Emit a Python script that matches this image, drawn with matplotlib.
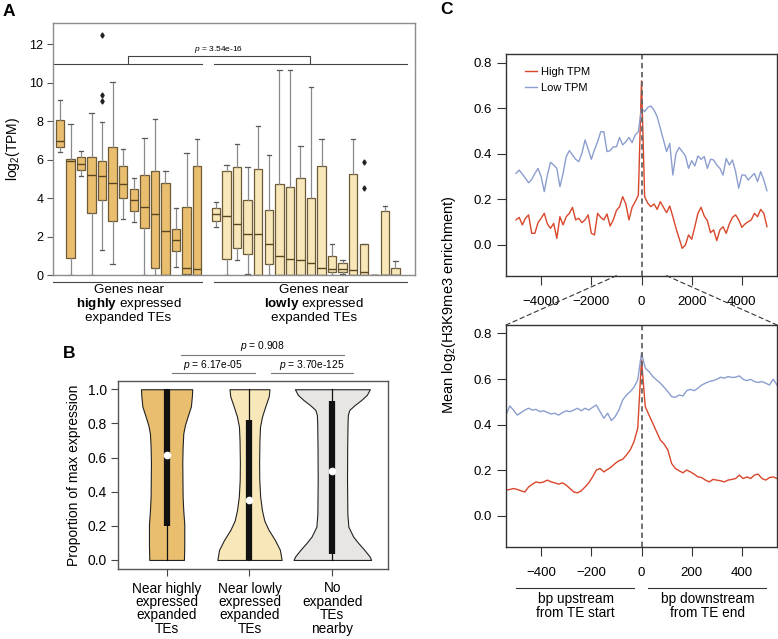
import numpy as np
import matplotlib.pyplot as plt
from matplotlib.patches import ConnectionPatch

plt.rcParams['font.family'] = ['Liberation Sans', 'DejaVu Sans']
plt.rcParams['mathtext.fontset'] = 'custom'
plt.rcParams['mathtext.rm'] = 'Liberation Sans'
plt.rcParams['mathtext.it'] = 'Liberation Sans:italic'
plt.rcParams['mathtext.bf'] = 'Liberation Sans:bold'

# Panel A: box stats (whislo, q1, med, q3, whishi)
high_stats = [
    (6.37, 6.67, 6.98, 8.04, 9.11),
    (0.00, 0.87, 5.94, 6.05, 7.83),
    (5.16, 5.47, 5.79, 6.11, 6.44),
    (0.00, 3.20, 5.21, 6.15, 8.42),
    (1.32, 3.88, 5.13, 5.94, 7.95),
    (0.57, 2.80, 4.76, 6.63, 10.05),
    (2.93, 4.00, 4.74, 5.66, 6.56),
    (2.77, 3.34, 3.92, 4.47, 5.04),
    (0.00, 2.46, 3.55, 5.21, 7.12),
    (0.00, 0.35, 3.15, 5.39, 8.09),
    (0.00, 0.00, 2.29, 4.80, 5.42),
    (0.44, 1.23, 1.84, 2.41, 3.46),
    (0.00, 0.05, 0.38, 3.52, 6.36),
    (0.00, 0.00, 0.33, 5.65, 7.05),
]
high_fliers = {4: [9.06, 9.37, 12.47]}

low_stats = [
    (2.49, 2.80, 3.15, 3.48, 3.79),
    (0.00, 0.83, 3.07, 5.40, 5.73),
    (0.78, 1.40, 2.67, 5.61, 6.83),
    (0.07, 1.11, 2.15, 3.88, 5.61),
    (0.00, 0.00, 2.15, 5.53, 7.76),
    (0.00, 0.57, 1.60, 3.40, 6.25),
    (0.00, 0.00, 1.00, 4.73, 10.67),
    (0.00, 0.00, 0.85, 4.56, 10.67),
    (0.00, 0.00, 0.78, 5.06, 6.69),
    (0.00, 0.00, 0.64, 4.02, 9.75),
    (0.00, 0.00, 0.35, 5.65, 7.05),
    (0.00, 0.17, 0.33, 0.99, 1.63),
    (0.05, 0.14, 0.33, 0.61, 0.80),
    (0.00, 0.00, 0.24, 5.27, 7.05),
    (0.00, 0.00, 0.15, 1.63, 1.63),
    (0.00, 0.00, 0.00, 0.00, 0.00),
    (0.00, 0.00, 0.00, 3.33, 3.57),
    (0.00, 0.00, 0.00, 0.38, 0.75),
]
low_fliers = {14: [4.54, 5.85]}
p_boxes = "3.54e-16"

# Panel B: violin outlines (y level, half width) + inner stats
v_labels = ["Near highly\nexpressed\nexpanded\nTEs", "Near lowly\nexpressed\nexpanded\nTEs",
            "No\nexpanded\nTEs\nnearby"]
v1_y = [0, 0.08, 0.14, 0.21, 0.29, 0.37, 0.57, 0.66, 0.74, 0.79, 0.84, 0.90, 0.96, 1.0]
v1_w = [0.209, 0.213, 0.213, 0.213, 0.201, 0.193, 0.189, 0.193, 0.201, 0.221, 0.253, 0.293, 0.305, 0.309]
v2_y = [0, 0.059, 0.117, 0.176, 0.23, 0.29, 0.37, 0.47, 0.57, 0.70, 0.78, 0.84, 0.90, 0.96, 1.0]
v2_w = [0.388, 0.367, 0.307, 0.231, 0.179, 0.151, 0.129, 0.118, 0.116, 0.120, 0.127, 0.151, 0.191, 0.233, 0.241]
v3_y = [0, 0.02, 0.059, 0.098, 0.137, 0.195, 0.27, 0.47, 0.66, 0.80, 0.85, 0.879, 0.908, 0.938, 0.967, 1.0]
v3_w = [0.468, 0.450, 0.386, 0.315, 0.251, 0.193, 0.181, 0.177, 0.179, 0.183, 0.187, 0.205, 0.271, 0.351, 0.416, 0.452]
v_q1 = [0.20, 0.00, 0.035]
v_q3 = [1.00, 0.82, 0.93]
v_med = [0.613, 0.35, 0.52]
p_b = ["6.17e-05", "3.70e-125", "0.908"]

# Panel C: mean enrichment profiles
x_wide = np.arange(-5000, 5001, 125)
high_wide = [0.110, 0.121, 0.088, 0.117, 0.132, 0.051, 0.051, 0.098, 0.117, 0.139, 0.092, 0.073, 0.095, 0.029,
             0.124, 0.088, 0.124, 0.139, 0.165, 0.110, 0.117, 0.098, 0.110, 0.132, 0.051, 0.044, 0.139, 0.121,
             0.110, 0.136, 0.083, 0.110, 0.151, 0.168, 0.212, 0.180, 0.110, 0.165, 0.190, 0.219, 0.720, 0.212,
             0.183, 0.168, 0.180, 0.156, 0.190, 0.165, 0.142, 0.171, 0.124, 0.073, 0.029, -0.015, 0.000, 0.044,
             0.025, 0.080, 0.139, 0.165, 0.127, 0.107, 0.054, 0.066, 0.019, 0.066, 0.080, 0.051, 0.092, 0.121,
             0.132, 0.110, 0.077, 0.092, 0.102, 0.110, 0.139, 0.124, 0.156, 0.139, 0.080]
low_wide = [0.314, 0.329, 0.311, 0.293, 0.273, 0.288, 0.314, 0.336, 0.300, 0.234, 0.307, 0.363, 0.351, 0.336,
            0.256, 0.314, 0.388, 0.414, 0.395, 0.376, 0.366, 0.402, 0.461, 0.420, 0.376, 0.417, 0.453, 0.497,
            0.497, 0.410, 0.414, 0.431, 0.431, 0.472, 0.439, 0.453, 0.472, 0.449, 0.483, 0.497, 0.600, 0.585,
            0.604, 0.610, 0.592, 0.563, 0.512, 0.461, 0.410, 0.446, 0.307, 0.402, 0.428, 0.410, 0.391, 0.336,
            0.370, 0.347, 0.391, 0.376, 0.388, 0.336, 0.376, 0.373, 0.351, 0.336, 0.307, 0.380, 0.351, 0.373,
            0.322, 0.249, 0.307, 0.307, 0.285, 0.300, 0.314, 0.278, 0.322, 0.285, 0.238]

x_zoom = np.arange(-540, 541, 15)
high_zoom = [0.113, 0.116, 0.120, 0.116, 0.110, 0.105, 0.127, 0.139, 0.149, 0.145, 0.149, 0.157, 0.149, 0.145,
             0.139, 0.145, 0.135, 0.120, 0.105, 0.101, 0.110, 0.127, 0.145, 0.171, 0.201, 0.208, 0.193, 0.204,
             0.215, 0.230, 0.242, 0.248, 0.267, 0.289, 0.325, 0.384, 0.684, 0.479, 0.442, 0.406, 0.369, 0.333,
             0.315, 0.289, 0.230, 0.208, 0.198, 0.189, 0.201, 0.193, 0.183, 0.171, 0.168, 0.157, 0.149, 0.160,
             0.157, 0.154, 0.149, 0.157, 0.160, 0.164, 0.179, 0.164, 0.171, 0.164, 0.179, 0.183, 0.164, 0.157,
             0.168, 0.171, 0.164]
low_zoom = [0.442, 0.482, 0.464, 0.442, 0.453, 0.464, 0.472, 0.464, 0.467, 0.457, 0.461, 0.453, 0.447, 0.450,
            0.442, 0.453, 0.461, 0.457, 0.464, 0.472, 0.461, 0.472, 0.464, 0.476, 0.486, 0.457, 0.428, 0.450,
            0.418, 0.435, 0.464, 0.508, 0.530, 0.545, 0.564, 0.596, 0.714, 0.648, 0.633, 0.611, 0.596, 0.582,
            0.564, 0.545, 0.523, 0.520, 0.530, 0.526, 0.549, 0.555, 0.549, 0.560, 0.574, 0.582, 0.589, 0.593,
            0.599, 0.608, 0.604, 0.611, 0.607, 0.608, 0.614, 0.599, 0.593, 0.599, 0.589, 0.585, 0.589, 0.582,
            0.574, 0.599, 0.574]

c_high = '#E9BF6F'
c_low = '#F8E7B9'
c_none = '#E8E6E3'
c_red = '#D8472B'
c_blue = '#8C9ECF'

W, H = 778, 639
fig = plt.figure(figsize=(W / 100, H / 100), dpi=100)

def box(l, t, r, b):
    return [l / W, 1 - b / H, (r - l) / W, (b - t) / H]

# ---------------- Panel A
axA = fig.add_axes(box(53, 23, 415, 275))
pos_high = 1 + np.arange(len(high_stats))
pos_low = 15.8 + np.arange(len(low_stats))

def make_stats(rows, fl):
    out = []
    for i, (lo, q1, med, q3, hi) in enumerate(rows):
        out.append(dict(whislo=lo, q1=q1, med=med, q3=q3, whishi=hi, fliers=fl.get(i, [])))
    return out

for rows, fl, pos, col in [(high_stats, high_fliers, pos_high, c_high), (low_stats, low_fliers, pos_low, c_low)]:
    axA.bxp(make_stats(rows, fl), positions=pos, widths=0.8, patch_artist=True, capwidths=0.42,
            boxprops=dict(facecolor=col, edgecolor='#6e5a36', lw=0.9),
            medianprops=dict(color='#5a4524', lw=1.0),
            whiskerprops=dict(color='#8a8a8a', lw=0.9),
            capprops=dict(color='#5a5a5a', lw=0.9),
            flierprops=dict(marker='d', markersize=2.6, markerfacecolor='#222222', markeredgecolor='#222222'))

axA.set_xlim(0.34, 34.66)
axA.set_ylim(0, 13.1)
axA.set_yticks(np.arange(0, 13, 2))
axA.set_xticks([])
axA.tick_params(axis='y', labelsize=9, length=4, color='#555555', pad=3)
for s in axA.spines.values():
    s.set_color('#8c8c8c')
    s.set_linewidth(1.0)
axA.set_ylabel('log$_2$(TPM)', fontsize=10, labelpad=5)

# significance bracket
kw = dict(color='#444444', lw=0.8, clip_on=False)
axA.plot([0.32, 14.46], [10.98, 10.98], **kw)
axA.plot([15.63, 33.88], [10.98, 10.98], **kw)
axA.plot([7.41, 7.41, 24.74, 24.74], [10.98, 11.38, 11.38, 10.98], **kw)
axA.text(16.07, 11.72, '$p$ = ' + p_boxes, fontsize=6, ha='center', va='center')

# group labels below
axA.plot([0.32, 14.46], [-0.36, -0.36], **kw)
axA.plot([15.63, 33.88], [-0.36, -0.36], **kw)
for xc, word in [(7.5, 'highly'), (25.1, 'lowly')]:
    axA.text(xc, -0.80, 'Genes near', fontsize=9.6, ha='center', va='center')
    axA.text(xc, -1.51, '$\\mathbf{' + word + '}$ expressed', fontsize=9.6, ha='center', va='center')
    axA.text(xc, -2.22, 'expanded TEs', fontsize=9.6, ha='center', va='center')

# ---------------- Panel B
axB = fig.add_axes(box(118.3, 380.7, 388.3, 569))
vy = [v1_y, v2_y, v3_y]
vw = [v1_w, v2_w, v3_w]
vcol = [c_high, c_low, c_none]
for i in range(3):
    p = i + 1
    y = np.array(vy[i])
    w = np.array(vw[i])
    axB.fill_betweenx(y, p - w, p + w, facecolor=vcol[i], edgecolor='#222222', lw=0.8)
    axB.plot([p, p], [0, 1], color='#111111', lw=0.9)
    axB.plot([p, p], [v_q1[i], v_q3[i]], color='#111111', lw=4.5, solid_capstyle='butt')
    axB.plot(p, v_med[i], 'o', color='white', ms=4.5, mec='white')

axB.set_xlim(0.417, 3.675)
axB.set_ylim(-0.053, 1.05)
axB.set_yticks(np.arange(0, 1.01, 0.2))
axB.set_yticklabels(['%.1f' % v for v in np.arange(0, 1.01, 0.2)])
axB.set_xticks([1, 2, 3])
axB.set_xticklabels(v_labels, fontsize=9.8, linespacing=0.95)
axB.tick_params(axis='y', labelsize=10, length=5, color='#444444', pad=3)
axB.tick_params(axis='x', length=5, color='#444444', pad=4)
for s in axB.spines.values():
    s.set_color('#555555')
    s.set_linewidth(1.0)
axB.set_ylabel('Proportion of max expression', fontsize=10, labelpad=5)

kwb = dict(color='#777777', lw=0.8, clip_on=False)
axB.plot([1.06, 2.064], [1.097, 1.097], **kwb)
axB.plot([2.257, 3.248], [1.097, 1.097], **kwb)
axB.plot([1.172, 3.14], [1.203, 1.203], **kwb)
axB.text(1.561, 1.142, '$p$ = ' + p_b[0], fontsize=7.4, ha='center', va='center')
axB.text(2.754, 1.142, '$p$ = ' + p_b[1], fontsize=7.4, ha='center', va='center')
axB.text(2.157, 1.254, '$p$ = ' + p_b[2], fontsize=7.4, ha='center', va='center')

# ---------------- Panel C
axC1 = fig.add_axes(box(506, 54.3, 777, 275.7))
axC2 = fig.add_axes(box(506, 325, 777, 546.7))

axC1.plot(x_wide, high_wide, color=c_red, lw=1.0, label='High TPM')
axC1.plot(x_wide, low_wide, color=c_blue, lw=1.0, label='Low TPM')
axC1.set_xlim(-5400, 5400)
axC1.set_xticks(np.arange(-4000, 4001, 2000))

axC2.plot(x_zoom, high_zoom, color=c_red, lw=1.0)
axC2.plot(x_zoom, low_zoom, color=c_blue, lw=1.0)
axC2.set_xlim(-540, 540)
axC2.set_xticks(np.arange(-400, 401, 200))

for ax in (axC1, axC2):
    ax.set_ylim(-0.135, 0.837)
    ax.set_yticks(np.arange(0, 0.81, 0.2))
    ax.set_yticklabels(['%.1f' % v for v in np.arange(0, 0.81, 0.2)])
    ax.axvline(0, color='#666666', lw=1.3, ls=(0, (3, 2)))
    ax.tick_params(labelsize=9.5, length=6.5, color='#333333')
    ax.tick_params(axis='x', pad=8)
    ax.tick_params(axis='y', pad=3.5)
    for s in ax.spines.values():
        s.set_color('#333333')
        s.set_linewidth(1.0)

axC1.legend(loc='upper left', bbox_to_anchor=(0.035, 0.99), frameon=False, fontsize=8,
            handlelength=1.0, handletextpad=0.4, labelspacing=0.55)

# dashed zoom connectors
for xa, xb in [(-1000, -540), (1000, 540)]:
    con = ConnectionPatch(xyA=(xa, -0.135), coordsA=axC1.transData, xyB=(xb, 0.837), coordsB=axC2.transData,
                          color='#333333', lw=0.8, ls=(0, (4, 3)))
    fig.add_artist(con)

kwc = dict(color='#333333', lw=0.8, clip_on=False)
axC2.plot([-499, -28], [-0.315, -0.315], **kwc)
axC2.plot([25, 496], [-0.315, -0.315], **kwc)
axC2.text(-263, -0.335, 'bp upstream\nfrom TE start', fontsize=9.8, ha='center', va='top', linespacing=0.95)
axC2.text(264, -0.335, 'bp downstream\nfrom TE end', fontsize=9.8, ha='center', va='top', linespacing=0.95)

fig.text(449 / W, 1 - 305 / H, 'Mean log$_2$(H3K9me3 enrichment)', fontsize=10.5, rotation=90,
         ha='center', va='center')

# panel letters
fig.text(9 / W, 1 - 11 / H, 'A', fontsize=12.5, weight='bold', ha='center', va='center')
fig.text(69.5 / W, 1 - 353 / H, 'B', fontsize=12.5, weight='bold', ha='center', va='center')
fig.text(446.5 / W, 1 - 10 / H, 'C', fontsize=12.5, weight='bold', ha='center', va='center')

fig.savefig('out.png', dpi=100)
